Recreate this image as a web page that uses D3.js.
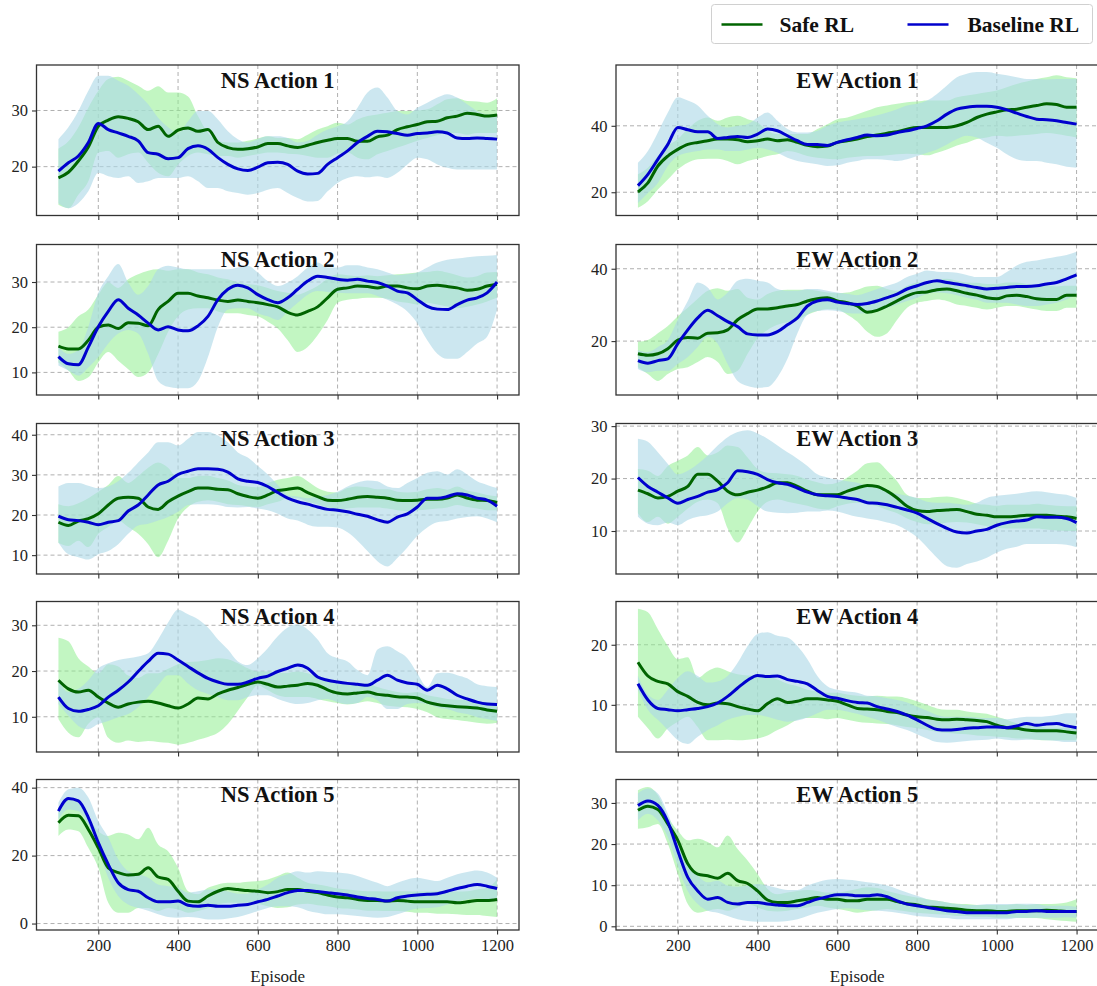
<!DOCTYPE html>
<html>
<head>
<meta charset="utf-8">
<script src="https://cdn.jsdelivr.net/npm/d3@7"></script>
<style>
  html, body { margin: 0; padding: 0; background: #fff; }
  svg { display: block; }
  text { font-family: "Liberation Serif", "Times New Roman", serif; }
</style>
</head>
<body>
<svg id="chart" width="1097" height="986"></svg>
<script>
// Episode sample points shared by every series
const episodes = [100,125,150,175,200,225,250,275,300,325,350,375,400,425,450,475,500,525,550,575,600,625,650,675,700,725,750,775,800,825,850,875,900,925,950,975,1000,1025,1050,1075,1100,1125,1150,1175,1200];
const xTicks = [200,400,600,800,1000,1200];

// ---- NS Action 1 ----
const ns1Safe   = [18.0,19.0,21.0,23.5,27.2,28.3,28.9,28.6,28.0,26.6,27.2,25.4,26.5,26.9,26.3,26.6,24.3,23.4,23.1,23.2,23.5,24.1,24.1,23.7,23.4,23.8,24.3,24.7,25.0,25.0,24.5,24.5,25.3,25.6,26.6,27.1,27.5,28.0,28.1,28.7,29.0,29.5,29.3,29.0,29.2];
const ns1SafeLo = [13.2,12.6,15.0,17.4,22.5,22.8,21.6,22.2,22.5,20.7,18.9,18.3,20.4,21.9,22.5,22.2,21.9,21.9,21.6,21.9,22.2,22.5,22.5,22.3,22.2,21.9,21.6,21.6,22.3,22.5,21.6,21.3,22.2,22.8,23.4,24.0,24.6,25.1,25.6,26.0,26.0,25.7,26.0,26.0,26.0];
const ns1SafeHi = [23.2,24.5,27.0,30.5,33.5,35.6,36.0,35.3,34.4,33.5,34.3,33.2,33.2,32.5,29.0,26.0,24.6,24.3,24.3,24.6,25.0,25.4,25.1,25.1,24.9,25.7,26.6,27.2,27.8,27.5,28.4,29.0,29.3,29.6,29.9,29.9,30.0,30.2,31.1,32.0,32.2,31.7,31.6,31.4,32.2];
const ns1Base   = [19.2,20.7,21.9,24.3,27.7,26.6,26.0,25.4,24.6,22.5,22.2,21.4,21.6,23.2,23.7,23.1,21.6,20.4,19.6,19.3,19.9,20.7,20.8,20.4,19.2,18.7,18.8,20.4,21.6,22.8,24.3,25.4,26.3,26.2,25.9,25.6,25.9,26.0,26.2,26.0,25.1,25.0,25.1,25.0,24.9];
const ns1BaseLo = [13.5,12.6,13.5,15.6,18.9,18.3,18.0,18.3,17.1,17.4,18.0,18.0,18.0,18.3,17.4,16.2,16.2,15.6,15.3,15.0,15.3,15.9,16.2,15.3,14.4,13.8,13.9,15.6,17.1,18.0,18.3,18.1,18.3,18.0,18.9,20.4,21.6,21.3,20.4,19.8,19.5,19.5,19.5,19.5,19.5];
const ns1BaseHi = [24.9,27.0,29.9,33.5,36.2,36.2,35.3,34.4,32.9,31.1,28.7,27.0,26.0,28.1,29.9,29.9,28.4,26.3,24.9,24.3,24.9,25.4,25.4,25.1,24.3,24.6,25.7,26.6,27.2,28.1,30.5,33.2,34.1,32.3,29.9,29.3,30.5,31.4,32.3,32.9,32.3,31.1,29.9,29.3,29.3];

// ---- EW Action 1 ----
const ew1Safe   = [20.1,22.8,27.9,30.9,32.9,34.4,35.0,35.5,36.0,36.0,35.8,35.2,35.5,36.0,35.5,35.8,35.0,34.1,33.7,33.9,35.0,35.5,36.0,36.8,37.2,37.8,38.2,39.0,39.5,39.5,39.5,39.5,40.0,41.0,42.5,43.5,44.2,44.8,45.0,45.6,46.1,46.6,46.4,45.6,45.6];
const ew1SafeLo = [15.3,17.3,20.8,23.8,26.9,28.9,29.9,30.1,30.1,29.4,28.4,29.4,30.1,30.9,31.4,32.4,31.9,30.9,30.4,30.1,29.9,30.4,30.7,30.9,30.9,31.1,31.4,31.6,31.4,31.1,31.9,32.9,34.1,34.9,36.0,36.5,37.0,36.8,37.0,37.2,37.5,37.8,37.5,37.0,36.5];
const ew1SafeHi = [25.4,27.4,30.9,33.9,36.0,39.0,41.5,42.5,41.5,42.5,43.0,42.0,41.0,38.5,37.5,37.5,37.5,37.5,39.0,40.5,42.0,42.5,43.5,44.5,45.6,46.1,46.6,47.1,47.3,47.6,47.6,47.6,48.6,49.1,49.6,50.1,50.6,51.6,52.6,53.3,54.1,54.6,55.2,54.6,54.3];
const ew1Base   = [22.0,25.4,29.9,34.4,39.5,38.8,38.2,38.2,36.2,36.5,36.8,36.5,37.5,39.0,38.5,37.0,35.5,34.4,34.4,34.1,35.0,35.8,36.5,37.2,37.0,37.2,38.0,38.5,39.2,40.0,41.5,43.5,45.0,45.6,45.9,45.9,45.6,44.8,43.8,42.8,42.0,41.8,41.5,41.0,40.5];
const ew1BaseLo = [16.8,19.8,22.8,27.9,30.9,31.9,32.4,32.9,32.9,32.4,32.4,32.9,33.4,32.9,31.9,30.4,29.4,28.9,28.4,27.9,28.1,28.9,29.4,29.9,29.9,29.7,29.4,29.9,30.9,31.9,32.9,34.4,36.0,37.0,36.5,34.9,33.4,31.4,29.9,29.4,29.4,28.9,28.4,27.7,27.4];
const ew1BaseHi = [28.9,32.4,38.0,44.0,48.6,47.6,46.1,43.0,40.5,39.5,40.0,40.5,42.5,44.0,41.5,39.0,38.0,38.0,38.5,40.0,41.0,41.5,42.0,42.5,43.2,44.0,45.0,46.1,46.6,47.6,49.6,52.1,54.6,55.7,56.2,56.2,55.7,55.2,54.6,54.1,54.1,53.9,54.1,54.1,54.1];

// ---- NS Action 2 ----
const ns2Safe   = [15.8,15.2,15.2,17.1,20.0,20.5,19.7,21.0,20.9,20.3,23.9,25.7,27.5,27.5,26.9,26.5,26.0,25.7,26.0,25.7,25.4,25.0,24.5,23.3,22.7,23.5,24.5,26.5,28.4,28.7,29.1,29.0,28.7,29.1,29.1,28.7,28.5,29.1,29.3,29.0,28.7,28.2,28.4,29.1,29.5];
const ns2SafeLo = [12.2,10.4,8.1,8.9,12.2,14.5,12.6,10.7,9.0,10.0,14.0,19.0,22.4,23.9,24.2,24.2,23.5,23.1,23.1,22.7,22.4,21.2,19.7,17.1,14.5,15.6,18.2,21.6,25.4,26.1,26.3,26.5,26.5,26.3,25.7,25.4,25.0,25.4,25.0,24.6,24.2,24.5,25.0,25.7,26.5];
const ns2SafeHi = [19.0,20.0,22.4,23.9,27.2,29.9,28.7,30.6,31.7,32.5,32.8,32.5,32.8,32.8,32.1,31.7,31.0,30.6,29.9,29.5,29.3,28.7,28.0,27.6,27.2,28.0,29.1,30.7,31.7,31.5,31.3,31.5,31.3,31.5,31.7,31.9,32.1,32.2,32.5,32.1,31.5,31.0,31.3,32.1,32.2];
const ns2Base   = [13.5,11.9,11.7,15.6,20.1,23.5,26.1,24.2,22.7,20.9,19.4,20.1,19.4,19.2,20.3,22.4,26.1,28.4,29.3,28.7,27.2,26.1,25.4,26.5,28.4,30.2,31.3,31.0,30.6,30.4,30.6,30.2,29.9,29.1,28.0,27.6,26.1,24.6,24.0,23.9,25.0,26.0,26.5,27.6,30.0];
const ns2BaseLo = [11.5,10.4,9.3,11.1,13.4,16.4,18.6,19.4,18.6,14.1,8.1,6.8,6.5,6.5,8.1,13.4,20.1,23.9,24.2,24.2,23.1,22.4,21.6,23.5,25.4,27.2,28.0,27.8,27.6,27.5,27.5,27.5,26.9,26.1,25.0,23.5,20.9,17.1,14.1,13.0,13.0,14.5,16.4,17.9,23.9];
const ns2BaseHi = [15.6,14.1,14.9,20.1,27.6,31.3,34.0,29.9,27.2,29.1,32.8,33.6,33.2,32.8,32.8,32.8,32.8,32.8,33.2,33.6,32.1,30.2,29.1,29.9,31.3,33.2,34.3,33.2,33.2,33.7,33.7,33.2,32.8,32.1,31.5,31.7,32.1,33.2,34.3,34.9,35.2,35.5,35.7,35.8,36.0];

// ---- EW Action 2 ----
const ew2Safe   = [16.5,16.1,16.5,17.9,20.3,21.0,20.8,22.2,22.3,23.1,25.9,27.6,28.9,28.9,29.2,29.7,30.1,31.1,31.7,32.0,31.1,30.6,29.7,28.0,28.5,29.7,31.1,32.5,33.4,33.6,34.2,34.4,33.9,33.2,32.7,32.0,31.7,32.5,32.7,32.3,31.7,31.5,31.5,32.7,32.7];
const ew2SafeLo = [12.8,10.9,9.0,10.9,12.3,12.8,14.2,15.6,14.2,10.9,11.8,16.5,20.8,23.1,24.5,25.2,25.9,27.3,28.3,28.9,28.7,27.3,25.4,22.6,21.2,22.2,25.9,29.2,30.6,31.1,31.5,31.1,30.1,29.7,29.2,28.7,29.2,29.7,29.7,29.2,28.7,28.3,28.3,29.2,29.2];
const ew2SafeHi = [19.8,20.3,22.2,24.2,26.9,29.2,31.7,33.9,34.6,33.9,34.4,32.0,31.5,33.0,33.9,34.2,34.2,34.2,33.9,33.4,33.2,33.4,34.2,35.1,35.3,34.4,33.9,35.3,36.2,36.4,37.0,37.2,36.7,36.2,36.1,35.8,35.8,36.2,36.2,35.8,35.3,35.3,35.1,35.3,35.3];
const ew2Base   = [14.6,13.9,14.6,15.1,19.3,23.1,26.4,28.5,27.0,25.4,24.0,22.0,21.7,21.7,22.6,24.5,26.4,29.7,31.1,31.4,30.8,30.4,30.1,30.4,31.1,32.0,33.0,34.4,35.3,36.2,36.7,36.2,35.8,35.3,34.8,34.4,34.6,34.8,35.1,35.1,35.3,35.8,36.2,37.2,38.3];
const ew2BaseLo = [12.3,11.4,11.8,11.8,13.7,15.6,18.4,21.2,19.3,13.7,9.0,7.6,7.1,7.3,10.0,15.1,22.2,27.3,28.3,28.5,28.3,27.8,27.6,27.8,28.3,29.2,30.1,31.1,32.0,33.0,33.4,33.2,32.7,32.0,31.4,30.6,30.6,30.6,30.1,29.7,29.7,30.1,30.6,31.5,33.0];
const ew2BaseHi = [17.5,17.0,18.4,20.3,25.9,31.1,36.2,34.8,31.5,33.4,36.7,37.2,36.7,36.2,34.4,33.9,33.9,34.4,34.4,33.9,33.4,33.0,32.7,33.4,34.4,35.3,36.2,37.7,38.6,39.5,39.2,39.1,38.9,38.3,37.7,37.7,37.7,39.1,40.9,41.9,42.3,42.8,43.3,43.8,44.7];

// ---- NS Action 3 ----
const ns3Safe   = [18.2,17.4,18.5,19.1,20.3,22.5,24.2,24.4,24.2,22.0,21.4,23.3,24.7,25.8,26.7,26.7,26.4,26.3,25.3,24.6,24.2,25.0,26.1,26.4,26.7,25.6,24.6,23.7,23.6,23.9,24.4,24.6,24.4,24.2,23.7,23.6,23.7,23.9,23.9,24.2,25.0,24.2,23.7,23.6,23.1];
const ns3SafeLo = [13.1,12.3,13.6,12.0,15.3,17.0,18.6,17.0,15.3,12.7,9.5,13.6,19.1,22.0,23.3,23.7,23.3,22.7,22.5,22.2,22.0,22.7,23.3,24.2,24.2,23.3,22.7,21.9,21.4,21.6,21.9,21.9,21.9,21.6,21.2,21.0,21.2,21.4,21.6,21.9,22.5,22.0,21.6,21.2,21.2];
const ns3SafeHi = [22.7,22.2,22.9,24.2,25.8,27.5,29.7,28.0,29.7,31.8,33.1,31.8,29.2,29.2,29.7,29.8,29.2,28.6,27.5,27.1,26.9,28.0,28.8,29.2,29.7,28.4,26.7,25.8,25.6,26.7,27.1,26.9,26.4,26.4,25.8,25.6,25.8,26.4,26.7,26.3,27.1,26.1,25.6,25.0,24.7];
const ns3Base   = [19.7,18.8,18.6,18.2,17.6,18.2,18.6,21.0,22.5,25.0,27.5,28.4,30.1,30.9,31.5,31.5,31.4,30.7,29.0,28.4,28.1,27.1,25.6,24.2,23.3,22.7,22.0,21.4,21.2,20.8,20.2,19.7,18.8,18.2,19.5,20.3,22.0,24.2,24.2,24.6,25.3,25.0,24.2,23.7,22.2];
const ns3BaseLo = [13.1,10.2,9.5,8.9,10.2,11.0,12.7,15.3,17.4,17.8,18.6,19.5,20.8,22.5,22.7,22.7,22.5,22.0,21.9,22.0,21.6,21.2,20.3,19.1,18.6,17.6,17.1,17.1,16.9,15.7,13.6,11.0,8.5,7.2,9.3,11.9,14.8,16.9,18.2,18.5,19.1,19.5,19.7,19.1,18.2];
const ns3BaseHi = [27.1,28.0,28.0,27.3,26.7,27.1,28.4,30.5,33.1,35.6,38.1,38.1,37.3,39.0,40.7,40.7,39.8,38.1,35.6,34.3,32.2,30.1,27.5,25.0,24.6,24.2,24.6,25.0,25.8,27.1,28.1,28.6,28.4,27.1,26.7,28.0,29.2,30.5,30.9,30.1,31.4,30.1,28.4,27.5,26.7];

// ---- EW Action 3 ----
const ew3Safe   = [17.8,17.1,16.3,16.6,17.6,18.5,20.8,20.8,19.5,17.6,16.9,17.4,17.8,18.4,19.2,19.2,18.5,17.6,16.9,16.9,16.9,17.6,18.2,18.7,18.5,17.6,16.3,14.7,13.9,13.7,13.9,14.0,14.1,13.7,13.2,13.0,12.7,12.7,12.8,13.0,13.0,13.0,12.8,12.7,12.4];
const ew3SafeLo = [13.4,11.7,12.7,11.4,12.7,14.3,15.6,16.0,15.3,10.5,7.8,10.5,13.7,15.6,16.0,15.6,15.2,14.8,14.3,14.1,14.7,15.2,15.4,15.2,14.7,14.0,13.4,12.4,11.7,11.3,11.3,11.6,11.7,11.6,11.3,10.9,10.6,10.5,10.5,10.5,10.5,10.3,10.1,10.0,10.0];
const ew3SafeHi = [21.8,21.5,20.5,22.4,23.4,24.4,26.0,24.4,25.0,26.3,26.0,24.0,21.8,21.1,21.0,20.8,20.5,19.8,19.3,18.9,19.2,20.2,21.5,22.9,23.1,21.5,19.5,16.9,16.3,16.3,16.5,16.6,16.3,15.8,15.2,15.0,14.8,15.0,15.0,15.0,15.2,15.0,14.8,14.7,14.7];
const ew3Base   = [20.2,18.5,17.4,16.3,15.3,16.0,16.6,17.4,17.9,19.2,21.5,21.3,20.8,19.8,19.2,18.9,18.2,17.4,16.9,16.7,16.6,16.3,16.0,15.4,15.3,15.0,14.5,14.0,13.4,12.4,11.4,10.5,9.8,9.6,10.0,10.3,11.1,11.6,11.9,12.1,12.7,12.6,12.6,12.4,11.6];
const ew3BaseLo = [12.7,11.4,11.1,11.6,11.1,12.1,12.7,13.0,13.7,15.3,16.3,16.0,14.7,13.7,13.5,13.4,13.5,13.7,13.7,13.9,13.7,13.2,12.7,12.4,12.1,11.6,11.1,10.1,8.8,6.9,4.9,3.3,3.0,3.7,4.2,4.9,5.9,6.6,7.0,7.5,7.5,7.5,7.5,7.4,6.9];
const ew3BaseHi = [27.6,27.0,25.0,22.8,20.8,21.5,22.8,24.4,26.3,27.9,28.9,29.2,28.6,27.6,26.3,25.0,23.8,22.4,20.8,20.2,19.8,19.5,19.2,18.5,18.2,17.6,17.1,16.7,16.3,15.6,15.4,15.4,15.2,15.0,15.4,16.3,16.7,16.9,17.1,17.4,17.6,17.4,17.1,16.9,16.3];

// ---- NS Action 4 ----
const ns4Safe   = [18.0,16.1,15.4,15.8,14.3,13.0,12.1,12.8,13.2,13.4,13.0,12.4,11.9,12.8,14.1,13.9,15.0,15.8,16.4,17.1,17.6,17.1,16.5,16.7,16.9,17.3,16.9,15.9,15.2,15.0,15.2,15.4,14.9,14.7,14.4,14.3,14.1,13.2,12.7,12.4,12.2,12.1,11.9,11.5,11.2];
const ns4SafeLo = [9.5,6.5,5.5,8.5,9.9,5.4,4.3,4.8,4.5,4.7,4.5,4.3,3.9,4.3,5.0,5.6,6.5,8.4,11.3,14.3,16.9,15.8,14.7,14.3,14.3,14.3,13.9,13.4,13.0,12.7,13.0,13.4,13.0,12.4,12.2,12.1,11.7,11.0,9.9,9.5,9.3,9.0,8.7,8.5,8.7];
const ns4SafeHi = [27.3,26.5,22.8,21.0,19.5,21.5,21.0,19.0,18.5,19.5,19.5,20.5,21.5,22.0,22.1,22.4,22.8,22.6,21.7,20.6,19.9,19.9,19.5,19.6,19.9,19.5,18.7,18.0,17.4,17.3,17.1,17.3,16.5,15.9,15.4,15.2,15.4,14.7,14.3,13.9,13.7,13.6,13.4,13.2,13.0];
const ns4Base   = [14.3,11.8,11.2,11.6,12.4,14.3,15.8,17.6,19.9,22.1,23.9,23.7,22.4,21.0,19.6,18.4,17.6,17.1,17.1,17.6,18.4,18.9,19.9,20.6,21.3,20.6,18.7,18.0,17.6,17.3,17.1,16.9,18.0,19.1,18.0,17.4,17.1,15.8,16.9,16.1,14.7,13.9,13.2,12.8,12.7];
const ns4BaseLo = [12.8,10.2,8.0,7.3,8.4,9.1,9.9,10.6,12.1,14.3,16.9,19.1,19.1,17.3,15.8,15.0,14.3,13.6,13.6,14.3,14.7,14.7,13.9,13.2,12.8,13.0,13.6,13.9,13.2,12.8,13.0,14.3,13.6,11.7,11.7,12.8,13.0,12.8,12.1,11.7,11.0,10.6,9.9,9.5,9.1];
const ns4BaseHi = [18.0,15.4,16.1,18.0,20.6,21.7,22.4,22.8,23.2,23.9,26.9,30.6,33.4,32.4,31.3,29.5,26.9,24.7,22.1,21.3,22.8,25.0,27.6,29.5,30.2,29.1,26.9,23.9,22.8,22.1,20.2,19.1,24.7,25.4,24.3,22.8,19.5,16.5,19.5,19.6,19.1,18.4,17.1,16.7,16.5];

// ---- EW Action 4 ----
const ew4Safe   = [17.1,14.8,13.9,13.5,12.2,11.4,10.4,10.0,10.3,10.2,9.7,9.3,9.0,10.2,11.0,10.4,10.6,11.0,11.0,10.8,10.6,10.0,9.4,9.3,9.2,8.9,8.7,8.3,8.0,7.9,7.6,7.5,7.6,7.5,7.4,7.2,6.6,6.2,6.1,5.8,5.7,5.7,5.7,5.5,5.3];
const ew4SafeLo = [8.0,6.1,4.4,6.1,7.2,8.0,6.3,4.1,4.1,4.2,4.1,4.2,4.4,4.9,5.8,6.6,7.5,7.8,7.8,7.6,7.8,7.5,7.2,7.0,6.9,6.8,6.6,6.3,6.1,5.8,5.5,5.3,5.2,5.1,4.9,4.8,4.7,4.6,4.4,4.4,4.2,4.1,4.1,4.1,4.1];
const ew4SafeHi = [26.0,25.4,22.6,19.8,17.6,17.9,14.5,15.6,16.2,15.6,15.1,14.9,14.9,14.8,14.2,13.5,13.1,12.5,12.2,12.0,12.0,11.7,11.5,11.4,11.5,11.4,11.4,11.1,10.6,10.0,9.4,9.2,9.2,8.9,8.7,8.5,8.0,7.5,6.9,6.6,6.5,6.2,6.2,6.1,6.1];
const ew4Base   = [13.5,10.8,9.4,9.2,9.0,9.2,9.4,9.7,10.3,11.4,12.8,14.1,14.9,14.7,14.8,14.2,13.9,13.5,12.4,11.4,11.1,10.7,10.4,10.3,9.7,9.3,8.9,8.3,7.5,6.6,5.9,5.8,5.9,6.1,6.2,6.3,6.3,6.2,6.5,6.9,6.6,6.8,6.9,6.5,6.2];
const ew4BaseLo = [12.5,9.2,7.5,5.8,4.1,3.5,4.7,5.8,6.6,7.5,8.0,8.3,8.3,8.0,7.5,7.2,7.4,7.9,8.6,9.2,9.2,8.9,8.5,8.0,7.5,6.9,6.3,5.8,5.1,4.4,3.8,3.7,3.8,4.0,4.1,4.2,4.4,4.2,4.1,4.2,4.2,4.1,4.0,3.8,3.8];
const ew4BaseHi = [14.8,11.7,10.8,12.5,14.5,15.6,14.8,13.7,13.9,14.8,17.0,19.8,21.8,22.1,21.5,21.2,19.8,17.6,14.8,13.1,12.5,12.2,12.0,11.5,11.4,11.1,10.8,10.4,9.7,9.0,8.3,8.0,8.0,8.0,7.9,7.8,7.8,7.6,7.8,8.0,8.0,8.1,8.3,8.6,8.6];

// ---- NS Action 5 ----
const ns5Safe   = [29.7,31.9,31.7,27.7,22.3,16.4,15.0,14.3,14.5,16.4,13.7,13.0,9.5,6.6,6.4,8.1,9.5,10.3,10.0,9.7,9.5,9.1,9.4,10.0,10.0,9.5,9.1,8.4,7.8,7.6,7.1,6.8,6.8,6.6,6.8,6.6,6.4,6.4,6.4,6.4,6.1,6.4,6.8,6.8,7.1];
const ns5SafeLo = [25.8,27.7,27.2,22.3,16.4,6.1,3.2,3.2,4.6,4.6,3.7,4.6,4.1,3.2,3.7,4.6,5.6,6.1,6.1,6.1,5.8,5.1,4.6,4.8,5.6,5.8,5.4,5.1,4.6,4.4,4.1,3.8,3.8,3.7,3.7,3.5,3.2,3.2,2.9,2.9,2.7,2.5,2.5,2.2,1.9];
const ns5SafeHi = [34.1,36.6,35.6,31.2,27.2,25.8,26.7,26.2,24.8,28.2,23.3,21.3,16.4,9.5,8.6,10.5,11.5,12.0,12.0,12.3,12.5,13.0,14.0,15.0,13.5,12.0,11.5,11.0,10.3,10.0,9.7,9.5,9.5,9.4,9.5,9.5,9.4,9.4,9.5,9.5,9.4,9.5,10.0,10.5,13.0];
const ns5Base   = [33.1,36.8,36.1,31.2,23.8,17.4,12.0,10.0,9.5,7.6,6.4,6.4,6.6,5.4,5.1,5.4,5.1,5.1,5.4,5.6,6.4,7.1,8.1,9.1,9.7,9.7,9.4,9.1,8.8,8.4,7.8,7.4,7.1,6.6,7.6,8.1,8.4,8.6,8.8,9.5,10.3,11.0,11.5,11.0,10.3];
const ns5BaseLo = [30.7,33.6,33.1,29.2,21.8,13.5,8.1,5.6,4.6,3.8,2.7,1.9,1.7,1.9,1.7,1.2,1.2,1.5,1.9,2.7,3.7,4.6,5.1,5.1,4.8,3.8,3.2,2.7,2.7,2.5,2.2,1.9,1.7,1.9,2.7,3.7,4.4,4.6,4.8,5.6,6.4,7.1,7.4,7.1,6.6];
const ns5BaseHi = [35.6,39.5,40.0,37.1,30.2,25.3,18.9,15.4,14.5,13.5,11.5,11.0,10.5,9.1,9.5,10.0,10.0,9.4,8.8,8.8,10.0,11.5,13.5,14.5,15.4,15.0,15.4,15.2,15.0,14.7,14.0,13.0,12.0,11.0,12.0,13.0,13.5,13.0,12.5,13.5,14.5,15.2,15.6,15.0,13.5];

// ---- EW Action 5 ----
const ew5Safe   = [28.2,29.2,28.4,24.9,20.9,15.2,12.7,12.3,11.7,12.9,11.1,10.4,8.6,6.4,5.8,5.8,6.2,6.6,7.0,6.6,6.6,6.2,6.2,6.6,6.6,6.6,6.0,5.5,5.2,4.7,4.6,4.4,4.2,3.9,3.8,3.8,3.6,3.6,3.8,3.8,3.8,3.9,3.8,3.6,3.6];
const ew5SafeLo = [23.7,24.1,24.9,20.1,12.7,5.4,3.3,3.8,4.2,3.8,4.6,5.4,4.6,3.8,3.6,3.8,4.2,4.6,5.0,4.6,4.2,3.8,3.3,3.6,3.9,4.2,3.9,3.6,3.3,3.1,2.9,2.8,2.5,2.5,2.3,2.3,2.1,2.1,2.1,2.0,2.0,1.7,1.5,1.3,1.1];
const ew5SafeHi = [33.1,33.9,31.9,26.6,23.3,20.9,21.3,20.5,19.2,22.1,18.8,16.0,12.7,9.1,7.8,8.2,8.6,8.8,8.6,8.2,8.2,8.6,9.1,9.5,9.3,8.6,8.0,7.4,7.0,6.6,6.2,5.8,5.5,5.4,5.2,5.2,5.2,5.2,5.4,5.2,5.4,5.4,5.5,5.8,6.6];
const ew5Base   = [29.4,30.5,29.4,25.4,18.4,11.9,8.6,6.6,7.0,5.8,5.4,5.8,5.8,5.4,5.2,5.0,5.0,5.8,6.6,7.2,7.7,7.7,7.4,7.4,7.7,7.2,6.2,5.4,5.0,4.6,4.2,3.8,3.6,3.3,3.3,3.3,3.3,3.3,3.6,3.6,3.8,3.6,3.6,3.6,3.6];
const ew5BaseLo = [25.8,27.4,25.8,21.7,14.8,8.6,5.4,3.8,3.3,2.5,1.7,1.3,1.1,1.1,1.1,1.3,1.7,2.5,3.3,3.8,4.2,4.4,4.2,3.9,3.8,3.6,3.3,2.9,2.5,2.3,2.1,2.0,1.7,1.7,1.7,1.7,1.7,1.7,2.0,2.1,2.1,2.1,2.1,2.2,2.1];
const ew5BaseHi = [32.3,33.5,32.3,27.4,20.9,15.2,12.3,10.7,11.1,9.9,9.6,9.9,10.3,9.9,9.3,8.8,8.8,9.9,10.7,11.3,11.5,11.3,11.1,10.7,10.4,9.9,9.1,8.2,7.4,6.6,6.2,5.8,5.4,5.2,5.2,5.4,5.4,5.4,5.5,5.5,5.4,5.0,5.0,5.0,4.7];

// Panels: title, series, y range and y ticks
const panels = [
  {title:"NS Action 1", col:0, row:0, safe:[ns1Safe,ns1SafeLo,ns1SafeHi], base:[ns1Base,ns1BaseLo,ns1BaseHi], yDomain:[11.3,38.1], yTicks:[20,30]},
  {title:"EW Action 1", col:1, row:0, safe:[ew1Safe,ew1SafeLo,ew1SafeHi], base:[ew1Base,ew1BaseLo,ew1BaseHi], yDomain:[13.0,58.3], yTicks:[20,40]},
  {title:"NS Action 2", col:0, row:1, safe:[ns2Safe,ns2SafeLo,ns2SafeHi], base:[ns2Base,ns2BaseLo,ns2BaseHi], yDomain:[5.0,38.3], yTicks:[10,20,30]},
  {title:"EW Action 2", col:1, row:1, safe:[ew2Safe,ew2SafeLo,ew2SafeHi], base:[ew2Base,ew2BaseLo,ew2BaseHi], yDomain:[5.1,46.7], yTicks:[20,40]},
  {title:"NS Action 3", col:0, row:2, safe:[ns3Safe,ns3SafeLo,ns3SafeHi], base:[ns3Base,ns3BaseLo,ns3BaseHi], yDomain:[5.3,42.8], yTicks:[10,20,30,40]},
  {title:"EW Action 3", col:1, row:2, safe:[ew3Safe,ew3SafeLo,ew3SafeHi], base:[ew3Base,ew3BaseLo,ew3BaseHi], yDomain:[1.8,30.5], yTicks:[10,20,30]},
  {title:"NS Action 4", col:0, row:3, safe:[ns4Safe,ns4SafeLo,ns4SafeHi], base:[ns4Base,ns4BaseLo,ns4BaseHi], yDomain:[2.3,35.2], yTicks:[10,20,30]},
  {title:"EW Action 4", col:1, row:3, safe:[ew4Safe,ew4SafeLo,ew4SafeHi], base:[ew4Base,ew4BaseLo,ew4BaseHi], yDomain:[2.15,27.2], yTicks:[10,20]},
  {title:"NS Action 5", col:0, row:4, safe:[ns5Safe,ns5SafeLo,ns5SafeHi], base:[ns5Base,ns5BaseLo,ns5BaseHi], yDomain:[-1.9,42.4], yTicks:[0,20,40]},
  {title:"EW Action 5", col:1, row:4, safe:[ew5Safe,ew5SafeLo,ew5SafeHi], base:[ew5Base,ew5BaseLo,ew5BaseHi], yDomain:[-0.9,35.7], yTicks:[0,10,20,30]}
];

const seriesStyle = {
  safe: {line:"#006400", band:"#90ee90", bandOpacity:0.55, label:"Safe RL"},
  base: {line:"#0000cd", band:"#add8e6", bandOpacity:0.62, label:"Baseline RL"}
};

// Layout
const serif = '"Liberation Serif", "Times New Roman", serif';
const colLeft = [36.5, 616];
const panelW = 482.5;
const rowTop = [65, 244.5, 423.5, 601.5, 779.5];
const panelH = 150.5;
const frameColor = "#333";

const svg = d3.select("#chart");
const defs = svg.append("defs");

panels.forEach((p, i) => {
  const x0 = colLeft[p.col], y0 = rowTop[p.row];
  const g = svg.append("g").attr("transform", `translate(${x0},${y0})`);

  const x = d3.scaleLinear().domain([45, 1255]).range([0, panelW]);
  const y = d3.scaleLinear().domain(p.yDomain).range([panelH, 0]);

  defs.append("clipPath").attr("id", "clip" + i)
    .append("rect").attr("width", panelW).attr("height", panelH);

  // dashed grid
  const grid = g.append("g").attr("stroke", "#b0b0b0").attr("stroke-width", 1)
    .attr("stroke-dasharray", "4,3");
  grid.selectAll("line.gx").data(xTicks).join("line")
    .attr("x1", d => x(d)).attr("x2", d => x(d)).attr("y1", 0).attr("y2", panelH);
  grid.selectAll("line.gy").data(p.yTicks).join("line")
    .attr("y1", d => y(d)).attr("y2", d => y(d)).attr("x1", 0).attr("x2", panelW);

  const plot = g.append("g").attr("clip-path", `url(#clip${i})`);
  const area = d3.area().curve(d3.curveMonotoneX)
    .x(d => x(d.ep)).y0(d => y(d.lo)).y1(d => y(d.hi));
  const line = d3.line().curve(d3.curveMonotoneX)
    .x(d => x(d.ep)).y(d => y(d.v));

  const rows = key => episodes.map((ep, k) => ({ep, v: p[key][0][k], lo: p[key][1][k], hi: p[key][2][k]}));

  // shaded spread first, mean curves on top
  ["safe", "base"].forEach(key => {
    plot.append("path").datum(rows(key))
      .attr("d", area)
      .attr("fill", seriesStyle[key].band)
      .attr("fill-opacity", seriesStyle[key].bandOpacity);
  });
  ["safe", "base"].forEach(key => {
    plot.append("path").datum(rows(key))
      .attr("d", line)
      .attr("fill", "none")
      .attr("stroke", seriesStyle[key].line)
      .attr("stroke-width", 3)
      .attr("stroke-linejoin", "round");
  });

  // axes
  const xAxis = d3.axisBottom(x).tickValues(xTicks).tickSize(4.5).tickPadding(5)
    .tickFormat(p.row === 4 ? d3.format("d") : () => "");
  const xg = g.append("g").attr("transform", `translate(0,${panelH})`).call(xAxis);
  const yg = g.append("g").call(d3.axisLeft(y).tickValues(p.yTicks).tickSize(4.5).tickPadding(4)
    .tickFormat(d3.format("d")));
  [xg, yg].forEach(a => {
    a.attr("font-family", serif).attr("font-size", 16.5);
    a.select(".domain").remove();
    a.selectAll(".tick line").attr("stroke", frameColor).attr("stroke-width", 1.1);
    a.selectAll(".tick text").attr("fill", "#222");
  });

  // frame
  g.append("rect").attr("width", panelW).attr("height", panelH)
    .attr("fill", "none").attr("stroke", frameColor).attr("stroke-width", 1.3);

  // panel title
  g.append("text").attr("x", panelW / 2).attr("y", 22.5)
    .attr("text-anchor", "middle")
    .style("font-size", "22.5px").style("font-weight", "bold").attr("fill", "#111")
    .text(p.title);

  if (p.row === 4) {
    g.append("text").attr("x", x(650)).attr("y", panelH + 52)
      .attr("text-anchor", "middle").style("font-size", "17px").attr("fill", "#222")
      .text("Episode");
  }
});

// legend
const lg = svg.append("g").attr("transform", "translate(711.5,4.5)");
lg.append("rect").attr("width", 381).attr("height", 39).attr("rx", 3)
  .attr("fill", "#fff").attr("stroke", "#d0d0d0").attr("stroke-width", 1);
[["safe", 10, 68], ["base", 196, 256]].forEach(([key, lx, tx]) => {
  lg.append("line").attr("x1", lx).attr("x2", lx + 41).attr("y1", 20).attr("y2", 20)
    .attr("stroke", seriesStyle[key].line).attr("stroke-width", 2.5);
  lg.append("text").attr("x", tx).attr("y", 27.5)
    .style("font-size", "21.5px").style("font-weight", "bold").attr("fill", "#111")
    .text(seriesStyle[key].label);
});
</script>
</body>
</html>
